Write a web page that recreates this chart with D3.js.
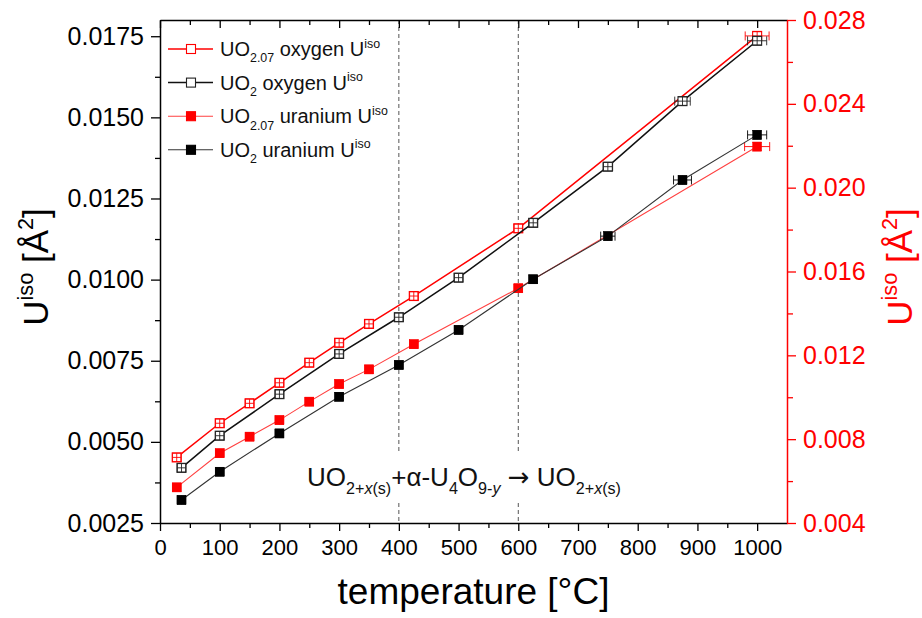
<!DOCTYPE html>
<html>
<head>
<meta charset="utf-8">
<script src="https://cdn.jsdelivr.net/npm/d3@7"></script>
<style>
  body { margin: 0; background: #fff; }
  svg { display: block; }
  text { font-family: "Liberation Sans", Arial, sans-serif; }
</style>
</head>
<body>
<svg id="chart" width="922" height="618"></svg>
<script>
// ---- data -------------------------------------------------------------
// UO2 series (left axis)
const tempUO2 = [36, 100, 200, 300, 400, 500, 625, 750, 875, 1000];
const uo2Oxygen = [0.00420, 0.00519, 0.00647, 0.00771, 0.00884, 0.01006, 0.01175, 0.01348, 0.01550, 0.01736];
const uo2Uranium = [0.00321, 0.00408, 0.00526, 0.00639, 0.00737, 0.00845, 0.01001, 0.01134, 0.01307, 0.01446];
const uo2OxygenTErr = [7, 7, 7, 7, 7, 7, 7, 8, 13, 16];
const uo2UraniumTErr = [7, 7, 7, 7, 7, 7, 7, 12, 15, 16];
const uo2UErr = [0.00013, 0.00013, 0.00013, 0.00013, 0.00013, 0.00013, 0.00013, 0.00013, 0.00013, 0.00013];

// UO2.07 series (right axis)
const tempUO207 = [28, 100, 150, 200, 250, 300, 350, 425, 600, 1000];
const uo207Oxygen = [0.00713, 0.00876, 0.00971, 0.01069, 0.01165, 0.01260, 0.01350, 0.01483, 0.01806, 0.02724];
const uo207Uranium = [0.00570, 0.00733, 0.00812, 0.00891, 0.00979, 0.01063, 0.01133, 0.01253, 0.01520, 0.02196];
const uo207OxygenTErr = [7, 7, 7, 7, 7, 7, 7, 7, 7, 20];
const uo207UraniumTErr = [7, 7, 7, 7, 7, 7, 7, 7, 7, 21];
const uo207UErr = [0.0002, 0.0002, 0.0002, 0.0002, 0.0002, 0.0002, 0.0002, 0.0002, 0.0002, 0.0002];

// axis ticks
const xTicks = [0, 100, 200, 300, 400, 500, 600, 700, 800, 900, 1000];
const xMinorTicks = [50, 150, 250, 350, 450, 550, 650, 750, 850, 950];
const leftTicks = [0.0025, 0.0050, 0.0075, 0.0100, 0.0125, 0.0150, 0.0175];
const leftMinorTicks = [0.00375, 0.00625, 0.00875, 0.01125, 0.01375, 0.01625];
const rightTicks = [0.004, 0.008, 0.012, 0.016, 0.020, 0.024, 0.028];
const rightMinorTicks = [0.006, 0.010, 0.014, 0.018, 0.022, 0.026];
const phaseBounds = [400, 600];

// ---- layout -----------------------------------------------------------
const svg = d3.select("#chart");
const plot = { left: 160, right: 787, top: 20, bottom: 523 };

const x = d3.scaleLinear().domain([0, 1050]).range([plot.left, plot.right]);
const yL = d3.scaleLinear().domain([0.0025, 0.018]).range([plot.bottom, plot.top]);
const yR = d3.scaleLinear().domain([0.004, 0.028]).range([plot.bottom, plot.top]);

const RED = "#ff0000";

// rich text with sub/superscripts, italics and per-part font family
function rich(textSel, parts, size) {
  let off = 0;
  parts.forEach(p => {
    const target = p.s === "sub" ? size * 0.32 : p.s === "sup" ? -size * 0.42 : 0;
    const ts = textSel.append("tspan").text(p.t);
    if (target !== off) ts.attr("dy", target - off);
    off = target;
    if (p.s) ts.attr("font-size", size * 0.62);
    if (p.i) ts.attr("font-style", "italic");
    if (p.f) ts.attr("font-family", p.f);
  });
  return textSel;
}

// ---- phase boundaries -------------------------------------------------
svg.append("g").selectAll("line").data(phaseBounds).join("line")
  .attr("x1", d => x(d)).attr("x2", d => x(d))
  .attr("y1", plot.top).attr("y2", plot.bottom)
  .attr("stroke", "#555").attr("stroke-width", 1).attr("stroke-dasharray", "4,3");

// reaction annotation
svg.append("rect").attr("x", 302).attr("y", 453).attr("width", 346).attr("height", 47).attr("fill", "#fff");
rich(svg.append("text").attr("x", 307).attr("y", 486).attr("font-size", 26).attr("fill", "#111"), [
  { t: "UO" }, { t: "2+", s: "sub" }, { t: "x", s: "sub", i: true }, { t: "(s)", s: "sub" },
  { t: "+α-U" }, { t: "4", s: "sub" }, { t: "O" }, { t: "9-", s: "sub" }, { t: "y", s: "sub", i: true },
  { t: " " }, { t: "→", f: '"DejaVu Sans", sans-serif' }, { t: " UO" },
  { t: "2+", s: "sub" }, { t: "x", s: "sub", i: true }, { t: "(s)", s: "sub" }
], 26);

// ---- series -----------------------------------------------------------
const series = [
  { t: tempUO207, v: uo207Oxygen, tErr: uo207OxygenTErr, vErr: uo207UErr, y: yR, line: RED, lw: 1.5, mark: RED, filled: false },
  { t: tempUO2, v: uo2Oxygen, tErr: uo2OxygenTErr, vErr: uo2UErr, y: yL, line: "#111", lw: 1.5, mark: "#222", filled: false },
  { t: tempUO207, v: uo207Uranium, tErr: uo207UraniumTErr, vErr: uo207UErr, y: yR, line: "#ff4040", lw: 1.1, mark: RED, filled: true },
  { t: tempUO2, v: uo2Uranium, tErr: uo2UraniumTErr, vErr: uo2UErr, y: yL, line: "#333", lw: 1.1, mark: "#000", filled: true }
];

const MS = 9; // marker size
series.forEach(s => {
  const pts = s.t.map((t, i) => ({ t, v: s.v[i], te: s.tErr[i], ve: s.vErr[i] }));
  const g = svg.append("g");
  g.append("path").datum(pts)
    .attr("fill", "none").attr("stroke", s.line).attr("stroke-width", s.lw)
    .attr("d", d3.line().x(d => x(d.t)).y(d => s.y(d.v)));
  g.selectAll("rect").data(pts).join("rect")
    .attr("x", d => x(d.t) - MS / 2).attr("y", d => s.y(d.v) - MS / 2)
    .attr("width", MS).attr("height", MS)
    .attr("fill", s.filled ? s.mark : "#fff")
    .attr("stroke", s.mark).attr("stroke-width", s.filled ? 0.5 : 1.1);
  // error bars
  const eb = g.append("g").attr("stroke", s.mark).attr("stroke-width", 0.9);
  pts.forEach(d => {
    const cx = x(d.t), cy = s.y(d.v);
    const x1 = x(d.t - d.te), x2 = x(d.t + d.te);
    const y1 = s.y(d.v - d.ve), y2 = s.y(d.v + d.ve);
    const c = MS / 2;
    eb.append("line").attr("x1", x1).attr("x2", x2).attr("y1", cy).attr("y2", cy);
    eb.append("line").attr("x1", x1).attr("x2", x1).attr("y1", cy - c).attr("y2", cy + c);
    eb.append("line").attr("x1", x2).attr("x2", x2).attr("y1", cy - c).attr("y2", cy + c);
    eb.append("line").attr("x1", cx).attr("x2", cx).attr("y1", y1).attr("y2", y2);
    eb.append("line").attr("x1", cx - c).attr("x2", cx + c).attr("y1", y1).attr("y2", y1);
    eb.append("line").attr("x1", cx - c).attr("x2", cx + c).attr("y1", y2).attr("y2", y2);
  });
});

// ---- axes -------------------------------------------------------------
function styleAxis(g, color, size) {
  g.selectAll("path.domain").attr("stroke", color).attr("stroke-width", 1.5);
  g.selectAll(".tick line").attr("stroke", color).attr("stroke-width", 1.3);
  g.selectAll(".tick text").attr("fill", color).attr("font-size", size)
    .attr("font-family", '"Liberation Sans", Arial, sans-serif');
}

// bottom
const gxMinor = svg.append("g").attr("transform", `translate(0,${plot.bottom})`)
  .call(d3.axisBottom(x).tickValues(xMinorTicks).tickSize(5).tickSizeOuter(0).tickFormat(""));
gxMinor.select(".domain").remove();
styleAxis(gxMinor, "#000", 22);
const gx = svg.append("g").attr("transform", `translate(0,${plot.bottom})`)
  .call(d3.axisBottom(x).tickValues(xTicks).tickSize(8).tickSizeOuter(0).tickPadding(8).tickFormat(d3.format("d")));
styleAxis(gx, "#000", 22);

// top (inward ticks)
const gtMinor = svg.append("g").attr("transform", `translate(0,${plot.top})`)
  .call(d3.axisTop(x).tickValues(xMinorTicks).tickSize(-5).tickSizeOuter(0).tickFormat(""));
gtMinor.select(".domain").remove();
styleAxis(gtMinor, "#000", 22);
const gt = svg.append("g").attr("transform", `translate(0,${plot.top})`)
  .call(d3.axisTop(x).tickValues(xTicks).tickSize(-8).tickSizeOuter(0).tickFormat(""));
styleAxis(gt, "#000", 22);

// left
const glMinor = svg.append("g").attr("transform", `translate(${plot.left},0)`)
  .call(d3.axisLeft(yL).tickValues(leftMinorTicks).tickSize(5).tickSizeOuter(0).tickFormat(""));
glMinor.select(".domain").remove();
styleAxis(glMinor, "#000", 25);
const gl = svg.append("g").attr("transform", `translate(${plot.left},0)`)
  .call(d3.axisLeft(yL).tickValues(leftTicks).tickSize(9).tickSizeOuter(0).tickPadding(7).tickFormat(d3.format(".4f")));
styleAxis(gl, "#000", 25);

// right (red)
const grMinor = svg.append("g").attr("transform", `translate(${plot.right},0)`)
  .call(d3.axisRight(yR).tickValues(rightMinorTicks).tickSize(6).tickSizeOuter(0).tickFormat(""));
grMinor.select(".domain").remove();
styleAxis(grMinor, RED, 25);
const gr = svg.append("g").attr("transform", `translate(${plot.right},0)`)
  .call(d3.axisRight(yR).tickValues(rightTicks).tickSize(9).tickSizeOuter(0).tickPadding(7).tickFormat(d3.format(".3f")));
styleAxis(gr, RED, 25);

// axis titles
svg.append("text").attr("x", (plot.left + plot.right) / 2).attr("y", 604)
  .attr("text-anchor", "middle").attr("font-size", 37).attr("fill", "#000")
  .text("temperature [°C]");

const titleParts = [{ t: "U" }, { t: "iso", s: "sup" }, { t: " [Å" }, { t: "2", s: "sup" }, { t: "]" }];
rich(svg.append("text").attr("transform", "translate(48,267) rotate(-90)")
  .attr("text-anchor", "middle").attr("font-size", 35).attr("fill", "#000"), titleParts, 35);
rich(svg.append("text").attr("transform", "translate(912,267) rotate(-90)")
  .attr("text-anchor", "middle").attr("font-size", 35).attr("fill", RED), titleParts, 35);

// ---- legend -----------------------------------------------------------
const legendItems = [
  { parts: [{ t: "UO" }, { t: "2.07", s: "sub" }, { t: " oxygen U" }, { t: "iso", s: "sup" }], s: series[0] },
  { parts: [{ t: "UO" }, { t: "2", s: "sub" }, { t: " oxygen U" }, { t: "iso", s: "sup" }], s: series[1] },
  { parts: [{ t: "UO" }, { t: "2.07", s: "sub" }, { t: " uranium U" }, { t: "iso", s: "sup" }], s: series[2] },
  { parts: [{ t: "UO" }, { t: "2", s: "sub" }, { t: " uranium U" }, { t: "iso", s: "sup" }], s: series[3] }
];
const lg = svg.append("g");
legendItems.forEach((it, i) => {
  const cy = 49 + i * 33.6;
  lg.append("line").attr("x1", 168).attr("x2", 213).attr("y1", cy).attr("y2", cy)
    .attr("stroke", it.s.line).attr("stroke-width", it.s.lw);
  lg.append("rect").attr("x", 191 - MS / 2).attr("y", cy - MS / 2).attr("width", MS).attr("height", MS)
    .attr("fill", it.s.filled ? it.s.mark : "#fff").attr("stroke", it.s.mark).attr("stroke-width", 1.1);
  rich(lg.append("text").attr("x", 220).attr("y", cy + 7).attr("font-size", 20).attr("fill", "#111"), it.parts, 20);
});
</script>
</body>
</html>
